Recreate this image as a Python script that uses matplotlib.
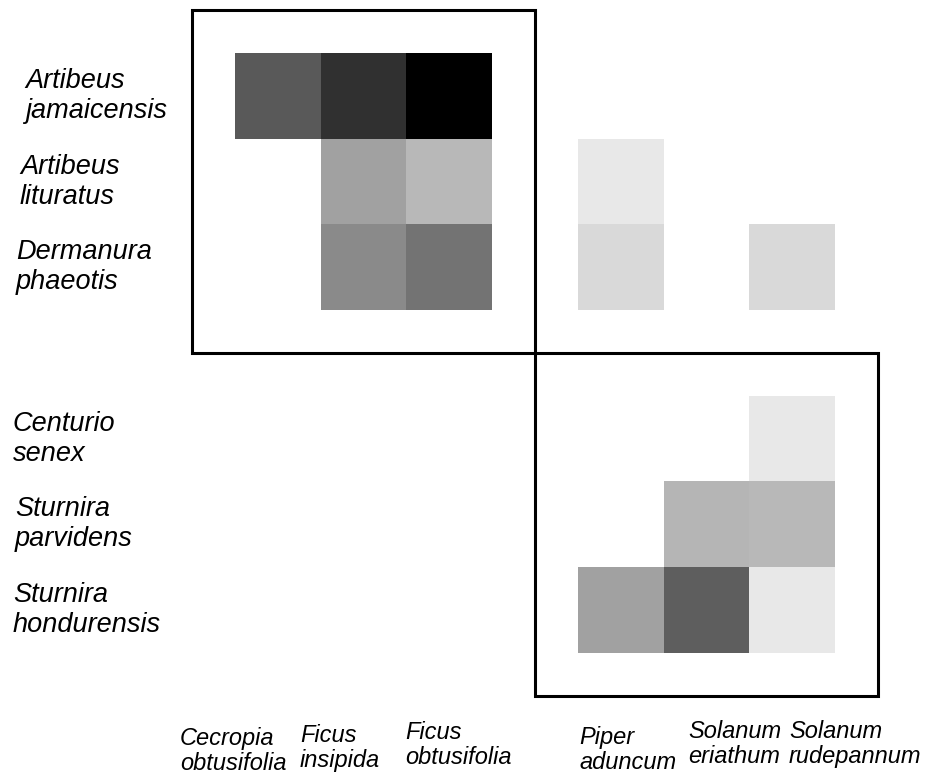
import numpy as np
import matplotlib
matplotlib.use('Agg')
import matplotlib.pyplot as plt
from matplotlib.colors import LinearSegmentedColormap
from matplotlib.patches import Rectangle
from matplotlib.transforms import blended_transform_factory

plt.rcParams['font.family'] = ['Liberation Sans', 'DejaVu Sans']

# bats (rows) and plants (columns)
bats = ['Artibeus\njamaicensis', 'Artibeus\nlituratus', 'Dermanura\nphaeotis',
        'Centurio\nsenex', 'Sturnira\nparvidens', 'Sturnira\nhondurensis']
plants = ['Cecropia\nobtusifolia', 'Ficus\ninsipida', 'Ficus\nobtusifolia',
          'Piper\naduncum', 'Solanum\neriathum', 'Solanum\nrudepannum']

# interaction strength (0 = none, 1 = strongest), nan = no interaction
strength = np.array([
    [0.65, 0.81, 1.00, np.nan, np.nan, np.nan],
    [np.nan, 0.37, 0.28, 0.09, np.nan, np.nan],
    [np.nan, 0.46, 0.55, 0.15, np.nan, 0.15],
    [np.nan, np.nan, np.nan, np.nan, np.nan, 0.09],
    [np.nan, np.nan, np.nan, np.nan, 0.29, 0.28],
    [np.nan, np.nan, np.nan, 0.37, 0.63, 0.09],
])

# grid slots (a blank slot separates the two modules)
bat_slot = [0, 1, 2, 4, 5, 6]
plant_slot = [0, 1, 2, 4, 5, 6]

grid = np.full((7, 7), np.nan)
for i, r in enumerate(bat_slot):
    for j, c in enumerate(plant_slot):
        grid[r, c] = strength[i, j]

fig = plt.figure(figsize=(9.25, 7.77), dpi=100)
ax = fig.add_axes([0, 0, 1, 1])
ax.axis('off')

cmap = LinearSegmentedColormap.from_list('wb', ['white', 'black'])
ax.pcolormesh(np.arange(8), np.arange(8), np.ma.masked_invalid(grid),
              cmap=cmap, vmin=0, vmax=1, edgecolors='none')

# module boxes
ax.add_patch(Rectangle((-0.5, -0.5), 4, 4, fill=False, ec='black', lw=2.2))
ax.add_patch(Rectangle((3.5, 3.5), 4, 4, fill=False, ec='black', lw=2.2))

ax.set_xlim(-2.742, 8.051)
ax.set_ylim(8.448, -0.618)

# row labels
row_x = [25, 20, 16, 13, 15, 13]
tr = blended_transform_factory(ax.transAxes, ax.transData)
for lab, r, px in zip(bats, bat_slot, row_x):
    ax.text(px / 925, r + 0.5, lab, transform=tr, ha='left', va='center',
            fontsize=19.5, style='italic', multialignment='left', linespacing=1.2)

# column labels
col_x = [180, 300, 405, 579, 688, 789]
col_y = [751, 748, 745, 750, 744, 744]
for lab, px, py in zip(plants, col_x, col_y):
    fig.text(px / 925, 1 - py / 777, lab, ha='left', va='center',
             fontsize=17, style='italic', multialignment='left', linespacing=1.08)

fig.savefig('out.png', dpi=100)
